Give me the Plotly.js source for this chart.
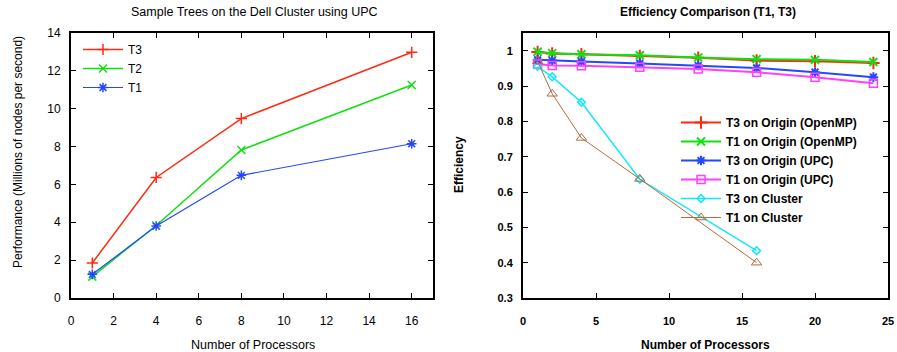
<!DOCTYPE html>
<html><head><meta charset="utf-8">
<script src="https://cdn.plot.ly/plotly-3.0.1.min.js"></script>
<style>html,body{margin:0;padding:0;background:#fff}</style>
</head><body><div id="chart" style="width:897px;height:352px"></div>
<script>
// Left chart: Sample Trees on the Dell Cluster using UPC
const procsLeft = [1, 4, 8, 16];
const perfT3 = [1.85, 6.37, 9.48, 12.98];
const perfT2 = [1.13, 3.83, 7.82, 11.25];
const perfT1 = [1.25, 3.80, 6.48, 8.15];

// Right chart: Efficiency Comparison (T1, T3)
const procsOrigin = [1, 2, 4, 8, 12, 16, 20, 24];
const effT3OpenMP = [0.996, 0.992, 0.990, 0.985, 0.980, 0.972, 0.970, 0.965];
const effT1OpenMP = [0.997, 0.993, 0.990, 0.987, 0.981, 0.976, 0.974, 0.968];
const effT3UPC = [0.974, 0.972, 0.969, 0.964, 0.958, 0.951, 0.939, 0.925];
const effT1UPC = [0.962, 0.958, 0.957, 0.953, 0.948, 0.939, 0.925, 0.908];
const procsCluster = [1, 2, 4, 8, 16];
const effT3Cluster = [0.955, 0.926, 0.854, 0.636, 0.434];
const effT1Cluster = [0.970, 0.878, 0.753, 0.637, 0.400];

const FONT = 'Liberation Sans, Arial, sans-serif';
const RED = '#ff2a10', GREEN = '#10e010', BLUE = '#2448ff', MAG = '#ff40ff', CYAN = '#10e8ff', BROWN = '#b86a3c';

const traces = [
  {x: procsLeft, y: perfT3, name: 'T3', mode: 'lines+markers', xaxis: 'x', yaxis: 'y', legend: 'legend',
   line: {color: RED, width: 1.5}, marker: {symbol: 'cross-thin-open', size: 8, color: RED, line: {color: RED, width: 1.5}}},
  {x: procsLeft, y: perfT2, name: 'T2', mode: 'lines+markers', xaxis: 'x', yaxis: 'y', legend: 'legend',
   line: {color: GREEN, width: 1.5}, marker: {symbol: 'x-thin-open', size: 8, color: GREEN, line: {color: GREEN, width: 1.5}}},
  {x: procsLeft, y: perfT1, name: 'T1', mode: 'lines+markers', xaxis: 'x', yaxis: 'y', legend: 'legend',
   line: {color: BLUE, width: 1.2}, marker: {symbol: 'asterisk-open', size: 8, color: BLUE, line: {color: BLUE, width: 1.5}}},

  {x: procsOrigin, y: effT3OpenMP, name: 'T3 on Origin (OpenMP)', mode: 'lines+markers', xaxis: 'x2', yaxis: 'y2', legend: 'legend2',
   line: {color: RED, width: 2}, marker: {symbol: 'cross-thin-open', size: 9, color: RED, line: {color: RED, width: 2}}},
  {x: procsOrigin, y: effT1OpenMP, name: 'T1 on Origin (OpenMP)', mode: 'lines+markers', xaxis: 'x2', yaxis: 'y2', legend: 'legend2',
   line: {color: GREEN, width: 2}, marker: {symbol: 'x-thin-open', size: 8, color: GREEN, line: {color: GREEN, width: 2}}},
  {x: procsOrigin, y: effT3UPC, name: 'T3 on Origin (UPC)', mode: 'lines+markers', xaxis: 'x2', yaxis: 'y2', legend: 'legend2',
   line: {color: BLUE, width: 2}, marker: {symbol: 'asterisk-open', size: 8, color: BLUE, line: {color: BLUE, width: 2}}},
  {x: procsOrigin, y: effT1UPC, name: 'T1 on Origin (UPC)', mode: 'lines+markers', xaxis: 'x2', yaxis: 'y2', legend: 'legend2',
   line: {color: MAG, width: 2}, marker: {symbol: 'square-open', size: 8, color: MAG, line: {color: MAG, width: 1.5}}},
  {x: procsCluster, y: effT3Cluster, name: 'T3 on Cluster', mode: 'lines+markers', xaxis: 'x2', yaxis: 'y2', legend: 'legend2',
   line: {color: CYAN, width: 1.5}, marker: {symbol: 'diamond-open', size: 6, color: CYAN, line: {color: CYAN, width: 1.5}}},
  {x: procsCluster, y: effT1Cluster, name: 'T1 on Cluster', mode: 'lines+markers', xaxis: 'x2', yaxis: 'y2', legend: 'legend2',
   line: {color: BROWN, width: 1}, marker: {symbol: 'triangle-up-open', size: 9, color: BROWN, line: {color: BROWN, width: 1}}}
];

const axisCommon = {
  showline: true, linecolor: '#000', linewidth: 2, mirror: 'ticks', ticks: 'inside', ticklen: 5,
  tickcolor: '#000', tickwidth: 1, showgrid: false, zeroline: false
};
const leftTick = {family: FONT, size: 12, color: '#000'};
const rightTick = {family: FONT, size: 11, color: '#000', weight: 'bold'};

const layout = {
  width: 897, height: 352,
  margin: {l: 0, r: 0, t: 0, b: 0},
  paper_bgcolor: '#fff', plot_bgcolor: '#fff',
  font: {family: FONT, color: '#000'},
  xaxis: Object.assign({}, axisCommon, {domain: [71/897, 433/897], range: [0, 17], tickvals: [0,2,4,6,8,10,12,14,16],
    ticklabelstandoff: 11, anchor: 'y', tickfont: leftTick}),
  yaxis: Object.assign({}, axisCommon, {domain: [1 - 298/352, 1 - 33/352], range: [0, 14], tickvals: [0,2,4,6,8,10,12,14],
    ticklabelstandoff: 6, anchor: 'x', tickfont: leftTick}),
  xaxis2: Object.assign({}, axisCommon, {domain: [523/897, 888/897], range: [0, 25], tickvals: [0,5,10,15,20,25],
    ticklabelstandoff: 12, anchor: 'y2', tickfont: rightTick}),
  yaxis2: Object.assign({}, axisCommon, {domain: [1 - 298/352, 1 - 33/352], range: [0.3, 1.05],
    tickvals: [0.3,0.4,0.5,0.6,0.7,0.8,0.9,1], ticktext: ['0.3','0.4','0.5','0.6','0.7','0.8','0.9','1'],
    ticklabelstandoff: 6, anchor: 'x2', tickfont: rightTick}),
  legend: {x: 78/897, y: 1 - 35/352, xanchor: 'left', yanchor: 'top', bgcolor: 'rgba(0,0,0,0)',
    font: {family: FONT, size: 12, color: '#000'}, tracegroupgap: 0, itemwidth: 40, traceorder: 'normal'},
  legend2: {x: 862/897, y: 1 - 108/352, xanchor: 'right', yanchor: 'top', bgcolor: 'rgba(0,0,0,0)',
    font: {family: FONT, size: 12, color: '#000', weight: 'bold'}, tracegroupgap: 0, itemwidth: 40, traceorder: 'normal'},
  annotations: [
    {text: 'Sample Trees on the Dell Cluster using UPC', xref: 'paper', yref: 'paper', x: 255/897, y: 1 - 12/352,
     xanchor: 'center', yanchor: 'middle', showarrow: false, font: {family: FONT, size: 12.5}},
    {text: 'Efficiency Comparison (T1, T3)', xref: 'paper', yref: 'paper', x: 708/897, y: 1 - 12/352,
     xanchor: 'center', yanchor: 'middle', showarrow: false, font: {family: FONT, size: 12, weight: 'bold'}},
    {text: 'Number of Processors', xref: 'paper', yref: 'paper', x: 253/897, y: 1 - 345/352,
     xanchor: 'center', yanchor: 'middle', showarrow: false, font: {family: FONT, size: 12.5}},
    {text: 'Number of Processors', xref: 'paper', yref: 'paper', x: 705/897, y: 1 - 345/352,
     xanchor: 'center', yanchor: 'middle', showarrow: false, font: {family: FONT, size: 12, weight: 'bold'}},
    {text: 'Performance (Millions of nodes per second)', xref: 'paper', yref: 'paper', x: 18/897, y: 1 - 152/352,
     xanchor: 'center', yanchor: 'middle', textangle: -90, showarrow: false, font: {family: FONT, size: 12}},
    {text: 'Efficiency', xref: 'paper', yref: 'paper', x: 459/897, y: 1 - 165/352,
     xanchor: 'center', yanchor: 'middle', textangle: -90, showarrow: false, font: {family: FONT, size: 12, weight: 'bold'}}
  ],
  showlegend: true
};

Plotly.newPlot('chart', traces, layout, {displayModeBar: false, staticPlot: true});
</script>
</body></html>
